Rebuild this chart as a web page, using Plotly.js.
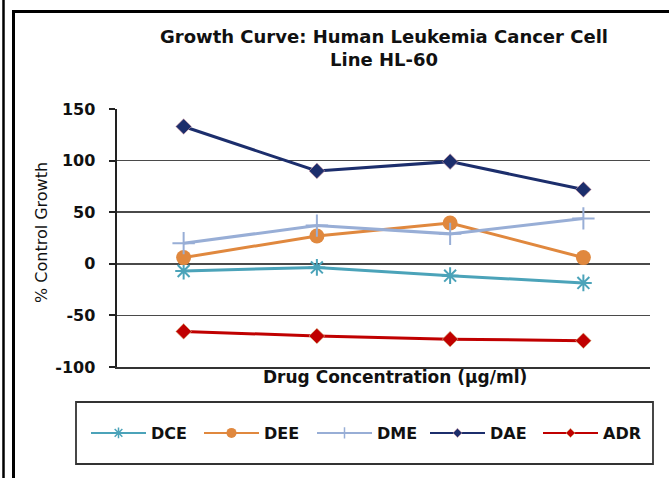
<!DOCTYPE html>
<html><head><meta charset="utf-8">
<script src="https://cdn.plot.ly/plotly-3.0.1.min.js"></script>
<style>html,body{margin:0;padding:0;background:#fff}#chart{width:669px;height:478px}</style>
</head><body><div id="chart"></div>
<script>
const concentrations = ["10", "20", "40", "80"];
const seriesNames = ["DCE", "DEE", "DME", "DAE", "ADR"];
const DCE = [-7, -3.5, -11.5, -18.5];
const DEE = [6, 27, 39.5, 6];
const DME = [20, 37, 29, 44];
const DAE = [133, 90, 99, 72];
const ADR = [-65.5, -70, -73, -74.5];
const yTicks = [-100, -50, 0, 50, 100, 150];

const styles = {
  DCE: {color: "#4BA3B9", symbol: "asterisk-open", size: 14, lw: 2, ls: 9},
  DEE: {color: "#E0883E", symbol: "circle", size: 15, lw: 0, ls: 10},
  DME: {color: "#98AED6", symbol: "cross-thin-open", size: 16, lw: 2, ls: 8},
  DAE: {color: "#1C2E6C", symbol: "diamond", size: 12, lw: 0.6, lc: "#d8a0a8", ls: 7},
  ADR: {color: "#C00000", symbol: "diamond", size: 12, lw: 0.6, lc: "#d8c890", ls: 7}
};
const values = {DCE, DEE, DME, DAE, ADR};

const traces = seriesNames.map(n => ({
  type: "scatter", mode: "lines+markers", name: n, showlegend: false,
  x: concentrations, y: values[n],
  line: {color: styles[n].color, width: 3},
  marker: {color: styles[n].color, symbol: styles[n].symbol, size: styles[n].size,
           line: {color: styles[n].lc || styles[n].color, width: styles[n].lw}}
}));
// legend-only entries (smaller symbols, thinner lines, like the original key)
const legendTraces = seriesNames.map(n => ({
  type: "scatter", mode: "lines+markers", name: n, showlegend: true,
  x: [concentrations[0]], y: [null],
  line: {color: styles[n].color, width: 2},
  marker: {color: styles[n].color, symbol: styles[n].symbol, size: styles[n].ls,
           line: {color: styles[n].lc || styles[n].color, width: styles[n].lw ? Math.min(styles[n].lw, 1.5) : 0}}
}));

const L = 117, R = 650, T = 109, B = 367;
const px = v => (v - L) / (R - L);
const py = v => (B - v) / (B - T);

const layout = {
  width: 669, height: 478,
  margin: {l: L, r: 669 - R, t: T, b: 478 - B},
  paper_bgcolor: "#fff", plot_bgcolor: "#fff",
  font: {family: "DejaVu Sans", color: "#000"},
  showlegend: true,
  title: {text: "<b>Growth Curve: Human Leukemia Cancer Cell<br>Line HL-60</b>",
          font: {family: "DejaVu Sans", size: 18, color: "#111"},
          x: px(384), xref: "paper", xanchor: "center",
          y: 1 - 43 / 478, yanchor: "middle"},
  xaxis: {type: "category", showticklabels: false, showgrid: false, zeroline: false,
          showline: true, linecolor: "#333", linewidth: 2, ticks: "",
          range: [-0.5, 3.5]},
  yaxis: {range: [-100, 150], tickvals: yTicks, ticktext: yTicks.map(String),
          showgrid: true, gridcolor: "#4a4a4a", gridwidth: 1.5, zeroline: false,
          showline: true, linecolor: "#222", linewidth: 2.5,
          ticks: "outside", ticklen: 6, tickwidth: 2, tickcolor: "#222",
          ticklabelstandoff: 10,
          tickfont: {family: "DejaVu Sans", size: 16, weight: "bold", color: "#111"}},
  annotations: [
    {text: "<b>Drug Concentration (µg/ml)</b>", xref: "paper", yref: "paper",
     x: px(395), y: py(377), xanchor: "center", yanchor: "middle", showarrow: false,
     font: {family: "DejaVu Sans", size: 17, color: "#111"}},
    {text: "% Control Growth", xref: "paper", yref: "paper", textangle: -90,
     x: px(41), y: py(233), xanchor: "center", yanchor: "middle", showarrow: false,
     font: {family: "DejaVu Sans", size: 16, color: "#111"}}
  ],
  legend: {orientation: "h", x: px(86), xanchor: "left", y: py(433), yanchor: "middle",
           xref: "paper", yref: "paper", bgcolor: "rgba(0,0,0,0)", borderwidth: 0,
           font: {family: "DejaVu Sans", size: 16, weight: "bold", color: "#111"},
           itemwidth: 55, entrywidth: 43, traceorder: "normal"},
  shapes: [
    {type: "rect", xref: "paper", yref: "paper", x0: px(76), x1: px(653), y0: py(464), y1: py(402),
     line: {color: "#333", width: 1.8}},
    {type: "line", xref: "paper", yref: "paper", x0: px(3.5), x1: px(3.5), y0: py(-5), y1: py(485),
     line: {color: "#000", width: 2.5}},
    {type: "line", xref: "paper", yref: "paper", x0: px(13.5), x1: px(13.5), y0: py(10), y1: py(485),
     line: {color: "#000", width: 3}},
    {type: "line", xref: "paper", yref: "paper", x0: px(12), x1: px(680), y0: py(11.5), y1: py(11.5),
     line: {color: "#000", width: 3}}
  ]
};

Plotly.newPlot("chart", traces.concat(legendTraces), layout, {displayModeBar: false, staticPlot: true});
</script></body></html>
